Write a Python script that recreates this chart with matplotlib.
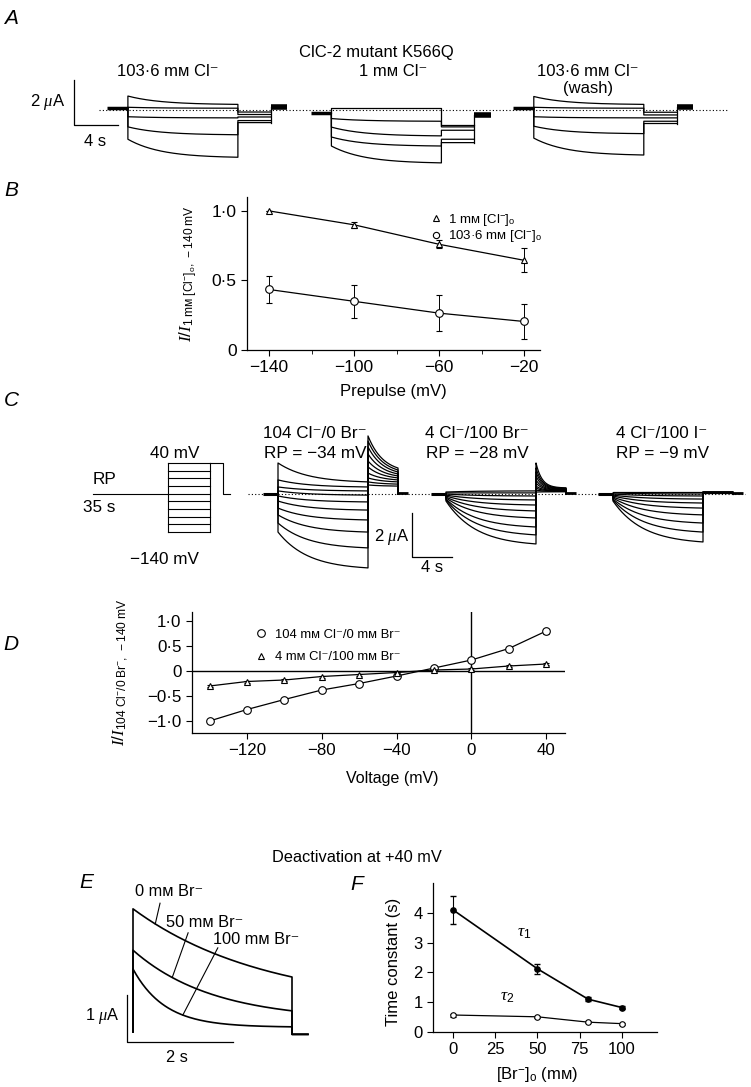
import numpy as np
import matplotlib.pyplot as plt
from matplotlib.lines import Line2D
from matplotlib.ticker import FuncFormatter

plt.rcParams['font.family'] = ['Liberation Sans', 'DejaVu Sans']
plt.rcParams['mathtext.fontset'] = 'custom'
plt.rcParams['mathtext.rm'] = 'Liberation Sans'
plt.rcParams['mathtext.it'] = 'Liberation Serif:italic'
plt.rcParams['mathtext.bf'] = 'Liberation Sans:bold'
plt.rcParams['font.size'] = 11.5
plt.rcParams['axes.linewidth'] = 0.9
plt.rcParams['xtick.major.width'] = 0.8
plt.rcParams['ytick.major.width'] = 0.8

W, H = 751, 1087

# ---------------- data ----------------
# A: current traces (uA), 5 sweeps per condition
a_labels = ['103·6 mм Cl⁻', '1 mм Cl⁻', '103·6 mм Cl⁻']
a_hold = [0.08, -0.15, 0.08]
a_step_start = [[0.62, 0.12, -0.30, -0.75, -1.30],
                [0.07, -0.38, -0.76, -1.20, -1.60],
                [0.60, 0.12, -0.30, -0.72, -1.25]]
a_step_end = [[0.25, 0.08, -0.35, -1.10, -2.10],
              [0.07, -0.50, -1.15, -1.60, -2.35],
              [0.25, 0.08, -0.35, -1.05, -2.00]]
a_tail = [[-0.09, -0.20, -0.31, -0.47, -0.56],
          [-0.65, -0.75, -0.90, -1.30, -1.45],
          [-0.10, -0.22, -0.35, -0.50, -0.60]]
a_block = [0.15, -0.20, 0.15]

# B: normalised current vs prepulse
b_volt = [-140, -100, -60, -20]
b_low = [1.00, 0.90, 0.76, 0.645]
b_low_err = [0.0, 0.02, 0.03, 0.085]
b_high = [0.435, 0.35, 0.265, 0.205]
b_high_err = [0.10, 0.12, 0.13, 0.125]

# C: voltage protocol (mV) and current traces (uA), 10 sweeps per condition
prot_levels = [40, 20, 0, -20, -40, -60, -80, -100, -120, -140]
prot_rp = -40
prot_tail = 40
c_titles = ['104 Cl⁻/0 Br⁻', '4 Cl⁻/100 Br⁻', '4 Cl⁻/100 I⁻']
c_rp = ['RP = −34 mV', 'RP = −28 mV', 'RP = −9 mV']
c_step_start = [[1.41, 0.64, 0.32, 0.14, -0.09, -0.32, -0.64, -0.95, -1.32, -1.73],
                [0.09, 0.05, 0.0, -0.05, -0.09, -0.14, -0.18, -0.23, -0.27, -0.32],
                [0.09, 0.05, 0.0, -0.05, -0.09, -0.14, -0.18, -0.23, -0.27, -0.32]]
c_step_end = [[0.55, 0.32, 0.14, -0.05, -0.36, -0.73, -1.18, -1.73, -2.45, -3.36],
              [0.14, 0.05, -0.09, -0.27, -0.50, -0.77, -1.09, -1.50, -1.86, -2.27],
              [0.09, 0.0, -0.09, -0.23, -0.41, -0.64, -0.95, -1.32, -1.73, -2.18]]
c_tail_start = [[0.41, 0.55, 0.73, 0.95, 1.23, 1.50, 1.82, 2.14, 2.41, 2.64],
                [0.09, 0.18, 0.27, 0.36, 0.50, 0.64, 0.82, 1.00, 1.18, 1.41],
                [0.05, 0.05, 0.06, 0.06, 0.07, 0.07, 0.08, 0.08, 0.09, 0.09]]
c_tail_end = [[0.36, 0.45, 0.55, 0.64, 0.73, 0.82, 0.91, 1.00, 1.09, 1.18],
              [0.10, 0.12, 0.14, 0.16, 0.18, 0.20, 0.22, 0.24, 0.26, 0.28],
              [0.05, 0.05, 0.06, 0.06, 0.07, 0.07, 0.08, 0.08, 0.09, 0.09]]
c_tail_tau = [1.5, 0.6, 1.0]

# D: I-V relation
d_volt = [-140, -120, -100, -80, -60, -40, -20, 0, 20, 40]
d_cl = [-1.0, -0.77, -0.57, -0.38, -0.25, -0.10, 0.06, 0.22, 0.45, 0.80]
d_cl_err = [0.0, 0.02, 0.02, 0.02, 0.02, 0.02, 0.02, 0.03, 0.04, 0.05]
d_br = [-0.30, -0.21, -0.18, -0.11, -0.07, -0.03, 0.02, 0.04, 0.10, 0.14]
d_br_err = [0.02, 0.02, 0.02, 0.02, 0.02, 0.02, 0.02, 0.02, 0.02, 0.02]

# E: deactivation traces at +40 mV (uA)
e_labels = ['0 mм Br⁻', '50 mм Br⁻', '100 mм Br⁻']
e_start = [2.62, 1.74, 1.34]
e_end = [1.17, 0.45, 0.11]
e_tau = [2.5, 1.5, 0.6]

# F: time constants vs [Br-]
f_br = [0, 50, 80, 100]
f_tau1 = [4.1, 2.12, 1.1, 0.82]
f_tau1_err = [0.46, 0.16, 0.07, 0.05]
f_tau2 = [0.57, 0.51, 0.33, 0.28]
f_tau2_err = [0.05, 0.04, 0.03, 0.03]


def relax(i0, i1, tau, dur, n=150):
    t = np.linspace(0, dur, n)
    w = (np.exp(-t / tau) - np.exp(-dur / tau)) / (1 - np.exp(-dur / tau))
    return t, i1 + (i0 - i1) * w


def relax_at(i0, i1, tau, dur, t):
    w = (np.exp(-t / tau) - np.exp(-dur / tau)) / (1 - np.exp(-dur / tau))
    return i1 + (i0 - i1) * w


def dot_fmt(v, pos):
    if abs(v) < 1e-9:
        return '0'
    return f'{v:.1f}'.replace('.', '·').replace('-', '\u2212')


def int_fmt(v, pos):
    return f'{v:.0f}'.replace('-', '\u2212')


fig = plt.figure(figsize=(W / 100, H / 100), dpi=100)


def px_axes(left, top, right, bottom):
    return fig.add_axes([left / W, 1 - bottom / H, (right - left) / W, (bottom - top) / H])


def trace_axes(box, origin, scale):
    l, t, r, b = box
    ax = px_axes(l, t, r, b)
    ax.set_xlim((l - origin[0]) / scale[0], (r - origin[0]) / scale[0])
    ax.set_ylim((origin[1] - b) / scale[1], (origin[1] - t) / scale[1])
    ax.axis('off')
    return ax


ov = px_axes(0, 0, W, H)
ov.set_xlim(0, W)
ov.set_ylim(H, 0)
ov.axis('off')


def ptext(x, y, s, **kw):
    kw.setdefault('ha', 'center')
    kw.setdefault('va', 'center')
    ov.text(x, y, s, **kw)


for lab, x, y in [('A', 11, 18), ('B', 11, 190), ('C', 11, 400), ('D', 11, 645),
                  ('E', 86, 882), ('F', 357, 885)]:
    ptext(x, y, lab, fontsize=15, style='italic')

K = 'k'
dots = (0, (1, 2))

# ---------------- A ----------------
ptext(376, 52, 'ClC-2 mutant K566Q', fontsize=12)
for x, s in zip([168, 393, 588], a_labels):
    ptext(x, 71, s, fontsize=12)
ptext(588, 89, '(wash)', fontsize=12)

axA = trace_axes((40, 75, 740, 170), (74, 110), (11.0, 22.5))
A_ONSETS = [4.9, 23.4, 41.8]
A_LEAD, A_STEP, A_TAIL, A_BLOCK, A_TAU = 1.9, 10.0, 3.0, 1.5, 3.0
axA.plot([2.3, 59.5], [0, 0], color=K, lw=0.8, ls=dots)
for g, on in enumerate(A_ONSETS):
    axA.plot([on - A_LEAD, on], [a_hold[g]] * 2, color=K, lw=2.5, solid_capstyle='butt')
    for i0, i1, it in zip(a_step_start[g], a_step_end[g], a_tail[g]):
        t, y = relax(i0, i1, A_TAU, A_STEP)
        tt = np.concatenate([[on], on + t, [on + A_STEP, on + A_STEP + A_TAIL]])
        yy = np.concatenate([[a_hold[g]], y, [it, it]])
        axA.plot(tt, yy, color=K, lw=0.9)
    tb = on + A_STEP + A_TAIL
    axA.plot([tb, tb], [min(a_tail[g]), a_block[g]], color=K, lw=0.9)
    axA.plot([tb, tb + A_BLOCK], [a_block[g]] * 2, color=K, lw=4, solid_capstyle='butt')
# scale bar 2 uA / 4 s
axA.plot([0, 0, 4], [1.33, -0.67, -0.67], color=K, lw=0.9)
ptext(65, 102, '2 $\\mu$A', ha='right', fontsize=12)
ptext(95, 141, '4 s', fontsize=12)

# ---------------- B ----------------
axB = px_axes(247, 197, 540, 350)
axB.errorbar(b_volt, b_low, yerr=b_low_err, color=K, lw=0.9, marker='^', ms=4.5,
             mfc='white', mec=K, mew=0.8, capsize=2, elinewidth=0.7)
axB.errorbar(b_volt, b_high, yerr=b_high_err, color=K, lw=0.9, marker='o', ms=5.5,
             mfc='white', mec=K, mew=0.8, capsize=2, elinewidth=0.7)
axB.set_xlim(-150.4, -12.5)
axB.set_ylim(0, 1.1)
axB.set_xticks(b_volt)
axB.set_xticks([-120, -80, -40], minor=True)
axB.set_yticks([0, 0.5, 1.0])
axB.yaxis.set_major_formatter(FuncFormatter(dot_fmt))
axB.xaxis.set_major_formatter(FuncFormatter(int_fmt))
axB.tick_params(length=4, labelsize=12.5)
axB.tick_params(which='minor', length=3)
for s in ['top', 'right']:
    axB.spines[s].set_visible(False)
axB.set_xlabel('Prepulse (mV)', fontsize=12)
axB.xaxis.set_label_coords(0.5, (350 - 384) / 153)
axB.set_ylabel(r'$I/I_{\mathrm{1\ mм\ [Cl^{-}]_o,\ -140\ mV}}$', fontsize=12.3)
axB.yaxis.set_label_coords((200 - 247) / 293, 0.5)
hB = [Line2D([], [], ls='none', marker='^', ms=4.5, mfc='white', mec=K, mew=0.8),
      Line2D([], [], ls='none', marker='o', ms=4.5, mfc='white', mec=K, mew=0.8)]
axB.legend(hB, ['1 mм [Cl$^{-}$]$_\\mathrm{o}$', '103·6 mм [Cl$^{-}$]$_\\mathrm{o}$'],
           loc='upper left', bbox_to_anchor=(424 / W, 1 - 205 / H),
           bbox_transform=fig.transFigure, frameon=False, fontsize=9.5,
           handlelength=0.8, handletextpad=0.5, labelspacing=0.05, borderpad=0)

# ---------------- C ----------------
axP = trace_axes((80, 440, 240, 585), (93, 478.3), (1.0, 0.383))
P_ON, P_OFF, P_TAIL, P_END = 75, 117, 130, 137
axP.plot([0, P_ON], [prot_rp] * 2, color=K, lw=0.8)
for v in prot_levels:
    axP.plot([P_ON, P_OFF], [v, v], color=K, lw=0.8)
axP.plot([P_ON, P_ON], [min(prot_levels), max(prot_levels)], color=K, lw=0.8)
axP.plot([P_OFF, P_OFF], [min(prot_levels), max(prot_levels)], color=K, lw=0.8)
axP.plot([P_OFF, P_TAIL, P_TAIL, P_END], [prot_tail, prot_tail, prot_rp, prot_rp], color=K, lw=0.8)
ptext(175, 453, '40 mV', fontsize=12.3)
ptext(104, 480, 'RP', fontsize=12.3)
ptext(99, 508, '35 s', fontsize=12.3)
ptext(164, 560, '\u2212140 mV', fontsize=12.3)

axC = trace_axes((240, 425, 750, 585), (412, 494), (10.0, 22.0))
C_ONSETS = [-13.4, 3.4, 20.1]
C_LEAD, C_STEP, C_TAIL = 1.5, 9.0, 3.0
axC.plot([-16.4, 33.3], [0, 0], color=K, lw=0.8, ls=dots)
for g, on in enumerate(C_ONSETS):
    axC.plot([on - C_LEAD, on], [0, 0], color=K, lw=2.2, solid_capstyle='butt')
    for k in range(len(c_step_start[g])):
        t, y = relax(c_step_start[g][k], c_step_end[g][k], 3.0, C_STEP)
        t2, y2 = relax(c_tail_start[g][k], c_tail_end[g][k], c_tail_tau[g], C_TAIL)
        tt = np.concatenate([[on], on + t, on + C_STEP + t2, [on + C_STEP + C_TAIL]])
        yy = np.concatenate([[0], y, y2, [0]])
        axC.plot(tt, yy, color=K, lw=0.9)
    te = on + C_STEP + C_TAIL
    axC.plot([te, te + 1.0], [0.03, 0.03], color=K, lw=2.0, solid_capstyle='butt')
for x, s1, s2 in zip([315, 477, 662], c_titles, c_rp):
    ptext(x, 433, s1, fontsize=12.3)
    ptext(x, 453, s2, fontsize=12.3)
axC.plot([0, 0, 4], [-0.86, -2.86, -2.86], color=K, lw=0.9)
ptext(409, 537, '2 $\\mu$A', ha='right', fontsize=12)
ptext(432, 568, '4 s', fontsize=12)

# ---------------- D ----------------
axD = px_axes(192, 612, 565, 733)
axD.axhline(0, color=K, lw=1.0)
axD.axvline(0, color=K, lw=1.0)
axD.errorbar(d_volt, d_cl, yerr=d_cl_err, color=K, lw=0.9, marker='o', ms=5.5,
             mfc='white', mec=K, mew=0.8, capsize=2, elinewidth=0.7, zorder=3)
axD.errorbar(d_volt, d_br, yerr=d_br_err, color=K, lw=0.9, marker='^', ms=5,
             mfc='white', mec=K, mew=0.8, capsize=2, elinewidth=0.7, zorder=3)
axD.set_xlim(-149.4, 50.0)
axD.set_ylim(-1.24, 1.18)
axD.set_xticks([-120, -80, -40, 0, 40])
axD.set_yticks([-1.0, -0.5, 0, 0.5, 1.0])
axD.yaxis.set_major_formatter(FuncFormatter(dot_fmt))
axD.xaxis.set_major_formatter(FuncFormatter(int_fmt))
axD.tick_params(length=4, labelsize=12.2)
for s in ['top', 'right']:
    axD.spines[s].set_visible(False)
axD.set_xlabel('Voltage (mV)', fontsize=11.5)
axD.xaxis.set_label_coords((392 - 192) / 373, (733 - 771) / 121)
axD.set_ylabel(r'$I/I_{\mathrm{104\ Cl^{-}/0\ Br^{-},\ -140\ mV}}$', fontsize=12.3)
axD.yaxis.set_label_coords((130 - 192) / 373, 0.5)
hD = [Line2D([], [], ls='none', marker='o', ms=5.5, mfc='white', mec=K, mew=0.8),
      Line2D([], [], ls='none', marker='^', ms=5, mfc='white', mec=K, mew=0.8)]
axD.legend(hD, ['104 mм Cl⁻/0 mм Br⁻', '4 mм Cl⁻/100 mм Br⁻'],
           loc='upper left', bbox_to_anchor=(249 / W, 1 - 622 / H),
           bbox_transform=fig.transFigure, frameon=False, fontsize=9.4,
           handlelength=0.8, handletextpad=0.7, labelspacing=0.8, borderpad=0)

# ---------------- E ----------------
ptext(357, 857, 'Deactivation at +40 mV', fontsize=11.8)
axE = trace_axes((90, 885, 320, 1065), (133, 1032), (53.0, 47.0))
E_DUR, E_POST = 3.0, 0.3
for i0, i1, tau in zip(e_start, e_end, e_tau):
    t, y = relax(i0, i1, tau, E_DUR)
    tt = np.concatenate([[0], t, [E_DUR, E_DUR + E_POST]])
    yy = np.concatenate([[0], y, [-0.05, -0.05]])
    axE.plot(tt, yy, color=K, lw=1.2)
e_pick = [0.42, 0.74, 0.94]
e_line_end = [(0.51, 2.74), (1.04, 2.11), (1.60, 1.79)]
e_text = [(0.68, 2.98), (1.36, 2.34), (2.32, 1.96)]
for k in range(3):
    yk = relax_at(e_start[k], e_end[k], e_tau[k], E_DUR, e_pick[k])
    axE.plot([e_pick[k], e_line_end[k][0]], [yk, e_line_end[k][1]], color=K, lw=0.8)
    axE.text(e_text[k][0], e_text[k][1], e_labels[k], ha='center', va='center', fontsize=11.8)
axE.plot([-0.11, -0.11, 1.89], [0.79, -0.21, -0.21], color=K, lw=0.9)
ptext(120, 1016, '1 $\\mu$A', ha='right', fontsize=11.8)
ptext(177, 1057, '2 s', fontsize=11.8)

# ---------------- F ----------------
axF = px_axes(433, 883, 657, 1032)
axF.errorbar(f_br, f_tau1, yerr=f_tau1_err, color=K, lw=1.2, marker='o', ms=3.8,
             mfc=K, mec=K, capsize=2.5, elinewidth=0.8)
axF.errorbar(f_br, f_tau2, yerr=f_tau2_err, color=K, lw=0.9, marker='o', ms=4,
             mfc='white', mec=K, mew=0.8, capsize=2, elinewidth=0.7)
axF.set_xlim(-11.8, 120.7)
axF.set_ylim(0, 5.0)
axF.set_xticks([0, 25, 50, 75, 100])
axF.set_yticks([0, 1, 2, 3, 4])
axF.tick_params(length=4, labelsize=12)
for s in ['top', 'right']:
    axF.spines[s].set_visible(False)
axF.text(42, 3.3, r'$\tau_1$', fontsize=12.5, ha='center', va='center')
axF.text(32, 1.17, r'$\tau_2$', fontsize=12.5, ha='center', va='center')
axF.set_xlabel('[Br$^{-}$]$_\\mathrm{o}$ (mм)', fontsize=12)
axF.xaxis.set_label_coords((537 - 433) / 224, (1032 - 1065) / 149)
axF.set_ylabel('Time constant (s)', fontsize=12)
axF.yaxis.set_label_coords((401 - 433) / 224, (1032 - 962) / 149)

fig.savefig('out.png', dpi=100)
